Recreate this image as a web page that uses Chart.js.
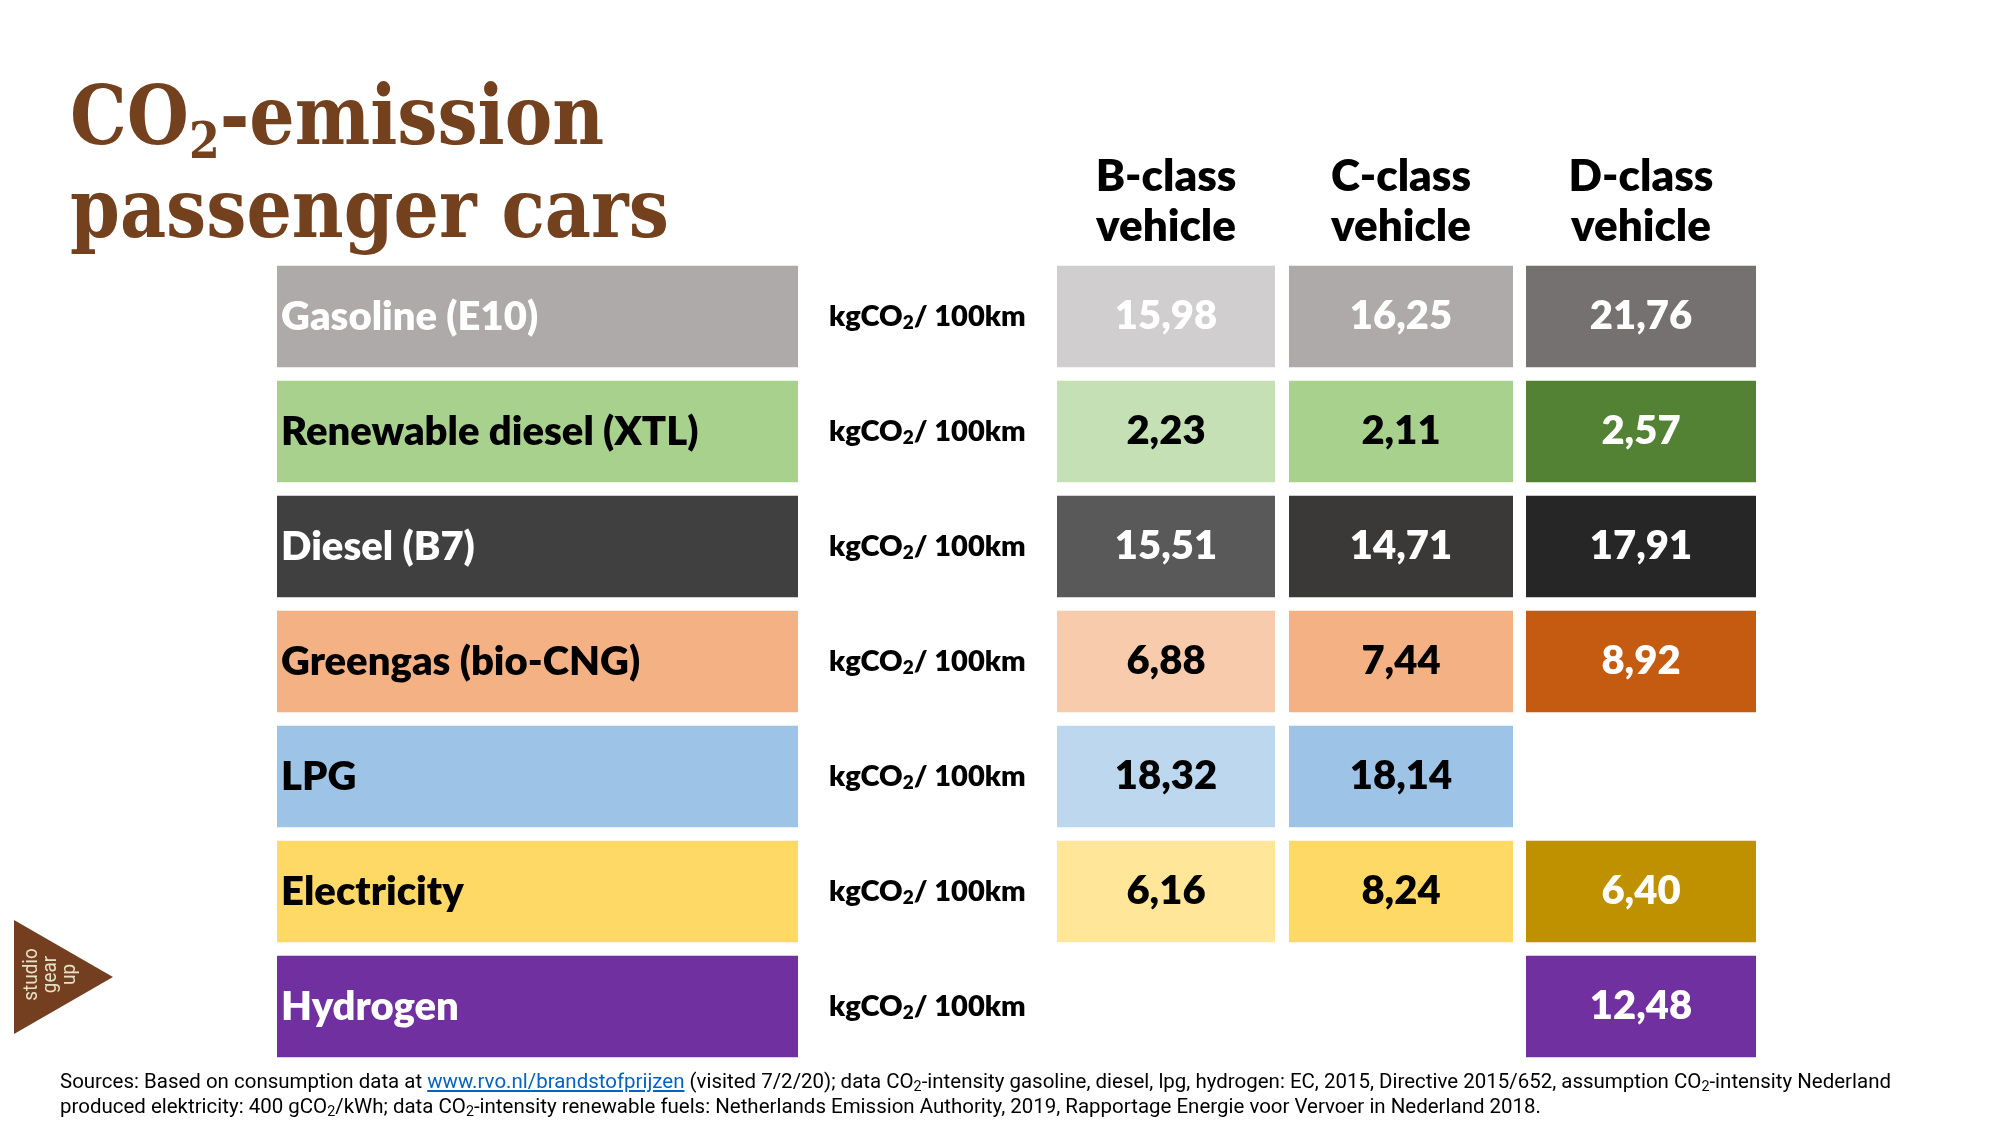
<!DOCTYPE html>
<html>
<head>
<meta charset="utf-8">
<script src="https://cdn.jsdelivr.net/npm/chart.js@4.4.0/dist/chart.umd.min.js"></script>
<style>
  html, body { margin: 0; padding: 0; background: #fff; }
  body { width: 1999px; height: 1125px; position: relative; overflow: hidden; }
  #chart-wrap { position: absolute; left: 0; top: 0; width: 1999px; height: 1125px; }
  .title {
    position: absolute; left: 70px; color: #74411f;
    font-family: "DejaVu Serif", serif; font-weight: bold; font-size: 82px; line-height: 1;
    transform: scaleX(0.87); transform-origin: left top; white-space: nowrap;
  }
  .title sub { font-size: 0.62em; vertical-align: -0.28em; line-height: 0; }
  .footer {
    position: absolute; left: 60px; font-family: Roboto, sans-serif; font-size: 21px;
    line-height: 25px; color: #000; white-space: nowrap; transform-origin: left top;
  }
  .footer a { color: #0563c1; text-decoration: underline; }
  .footer sub { font-size: 0.7em; vertical-align: -0.2em; line-height: 0; }
  #logo {
    position: absolute; left: 14px; top: 920px; width: 99px; height: 114px;
    background: #733f20; clip-path: polygon(0 0, 100% 50%, 0 100%);
  }
  #logo-text {
    position: absolute; left: -1px; top: 946px; width: 100px; height: 57px;
    font-family: Roboto, sans-serif; font-weight: 400; font-size: 21px; line-height: 19px;
    color: #e6e1c6; text-align: center; transform: rotate(-90deg) scaleX(0.9);
  }
</style>
</head>
<body>
<div id="chart-wrap"><canvas id="chart-co2"></canvas></div>
<div class="title" style="top:74px">CO<sub>2</sub>-emission</div>
<div class="title" style="top:167px">passenger cars</div>
<div id="logo"></div>
<div id="logo-text">studio<br>gear<br>up</div>
<div class="footer" id="footer-1" style="top:1069px">Sources: Based on consumption data at <a>www.rvo.nl/brandstofprijzen</a> (visited 7/2/20); data CO<sub>2</sub>-intensity gasoline, diesel, lpg, hydrogen: EC, 2015, Directive 2015/652, assumption CO<sub>2</sub>-intensity Nederland</div>
<div class="footer" id="footer-2" style="top:1094px">produced elektricity: 400 gCO<sub>2</sub>/kWh; data CO<sub>2</sub>-intensity renewable fuels: Netherlands Emission Authority, 2019, Rapportage Energie voor Vervoer in Nederland 2018.</div>
<script>
const fuels = ["Gasoline (E10)", "Renewable diesel (XTL)", "Diesel (B7)", "Greengas (bio-CNG)", "LPG", "Electricity", "Hydrogen"];
const vehicleClasses = [["B-class", "vehicle"], ["C-class", "vehicle"], ["D-class", "vehicle"]];
const bClass = [15.98, 2.23, 15.51, 6.88, 18.32, 6.16, null];
const cClass = [16.25, 2.11, 14.71, 7.44, 18.14, 8.24, null];
const dClass = [21.76, 2.57, 17.91, 8.92, null, 6.40, 12.48];
const unitLabel = ["kgCO", "2", "/ 100km"];

// styles
const labelFill = ["#aeaaaa", "#a9d18e", "#404040", "#f4b183", "#9dc3e6", "#ffd966", "#7030a0"];
const bFill = ["#d0cece", "#c5e0b4", "#595959", "#f8cbad", "#bdd7ee", "#ffe699", "#ffffff"];
const cFill = ["#aeaaaa", "#a9d18e", "#3b3838", "#f4b183", "#9dc3e6", "#ffd966", "#ffffff"];
const dFill = ["#767171", "#548235", "#262626", "#c55a11", "#ffffff", "#bf9000", "#7030a0"];
const labelInk = ["#fff", "#000", "#fff", "#000", "#000", "#000", "#fff"];
const bInk = ["#fff", "#000", "#fff", "#000", "#000", "#000", "#000"];
const cInk = ["#fff", "#000", "#fff", "#000", "#000", "#000", "#000"];
const dInk = ["#fff", "#fff", "#fff", "#fff", "#000", "#fff", "#fff"];

// layout (pixel columns on the x scale)
const labelCol = [277, 798];
const valueCols = [[1057, 1275], [1289, 1513], [1526, 1756]];
const unitX = 829;

function formatValue(v) {
  return v.toFixed(2).replace(".", ",");
}

function cellsFor(values, col) {
  return values.map((v) => (v == null ? null : col));
}

const tablePlugin = {
  id: "tableText",
  afterDatasetsDraw(chart) {
    const ctx = chart.ctx;
    const x = chart.scales.x;
    ctx.save();

    // column headers
    ctx.fillStyle = "#000";
    ctx.textAlign = "center";
    ctx.textBaseline = "alphabetic";
    ctx.font = "800 44px Lato";
    vehicleClasses.forEach((lines, i) => {
      const cx = x.getPixelForValue((valueCols[i][0] + valueCols[i][1]) / 2);
      ctx.fillText(lines[0], cx, 191);
      ctx.fillText(lines[1], cx, 241);
    });

    const inks = [labelInk, bInk, cInk, dInk];
    const values = [fuels, bClass, cClass, dClass];
    chart.data.datasets.forEach((ds, di) => {
      const meta = chart.getDatasetMeta(di);
      meta.data.forEach((bar, i) => {
        if (values[di][i] == null) return;
        const baseline = bar.y + 13;
        ctx.fillStyle = inks[di][i];
        ctx.font = "800 40px Lato";
        if (di === 0) {
          ctx.textAlign = "left";
          ctx.fillText(fuels[i], Math.min(bar.x, bar.base) + 4, baseline);
        } else {
          ctx.textAlign = "center";
          ctx.fillText(formatValue(values[di][i]), (bar.x + bar.base) / 2, baseline - 1);
        }
      });
    });

    // unit per row
    const rows = chart.getDatasetMeta(0).data;
    ctx.fillStyle = "#000";
    ctx.textAlign = "left";
    rows.forEach((bar) => {
      const y = bar.y + 9;
      let px = x.getPixelForValue(unitX);
      ctx.font = "800 29px Lato";
      ctx.fillText(unitLabel[0], px, y);
      px += ctx.measureText(unitLabel[0]).width;
      ctx.font = "800 19px Lato";
      ctx.fillText(unitLabel[1], px, y + 3);
      px += ctx.measureText(unitLabel[1]).width;
      ctx.font = "800 29px Lato";
      ctx.fillText(unitLabel[2], px, y);
    });
    ctx.restore();
  },
};

function renderChart() {
  const ctx = document.getElementById("chart-co2");
  new Chart(ctx, {
    type: "bar",
    data: {
      labels: fuels,
      datasets: [
        { label: "fuel", data: fuels.map(() => labelCol), backgroundColor: labelFill },
        { label: "B-class", data: cellsFor(bClass, valueCols[0]), backgroundColor: bFill },
        { label: "C-class", data: cellsFor(cClass, valueCols[1]), backgroundColor: cFill },
        { label: "D-class", data: cellsFor(dClass, valueCols[2]), backgroundColor: dFill },
      ],
    },
    options: {
      indexAxis: "y",
      responsive: true,
      maintainAspectRatio: false,
      animation: false,
      layout: { padding: { top: 259, bottom: 61, left: 0, right: 0 } },
      datasets: { bar: { grouped: false, categoryPercentage: 1, barPercentage: 0.884, borderSkipped: false } },
      plugins: { legend: { display: false }, tooltip: { enabled: false } },
      scales: {
        x: { type: "linear", min: 0, max: 1999, display: false },
        y: { type: "category", display: false, offset: true },
      },
    },
    plugins: [tablePlugin],
  });
}

function fitFooter() {
  const f1 = document.getElementById("footer-1");
  const f2 = document.getElementById("footer-2");
  const k = 1831 / f1.getBoundingClientRect().width;
  f1.style.transform = `scaleX(${k})`;
  f2.style.transform = `scaleX(${k})`;
}

document.fonts.load("800 40px Lato").then(() => {
  renderChart();
  fitFooter();
});
</script>
</body>
</html>
